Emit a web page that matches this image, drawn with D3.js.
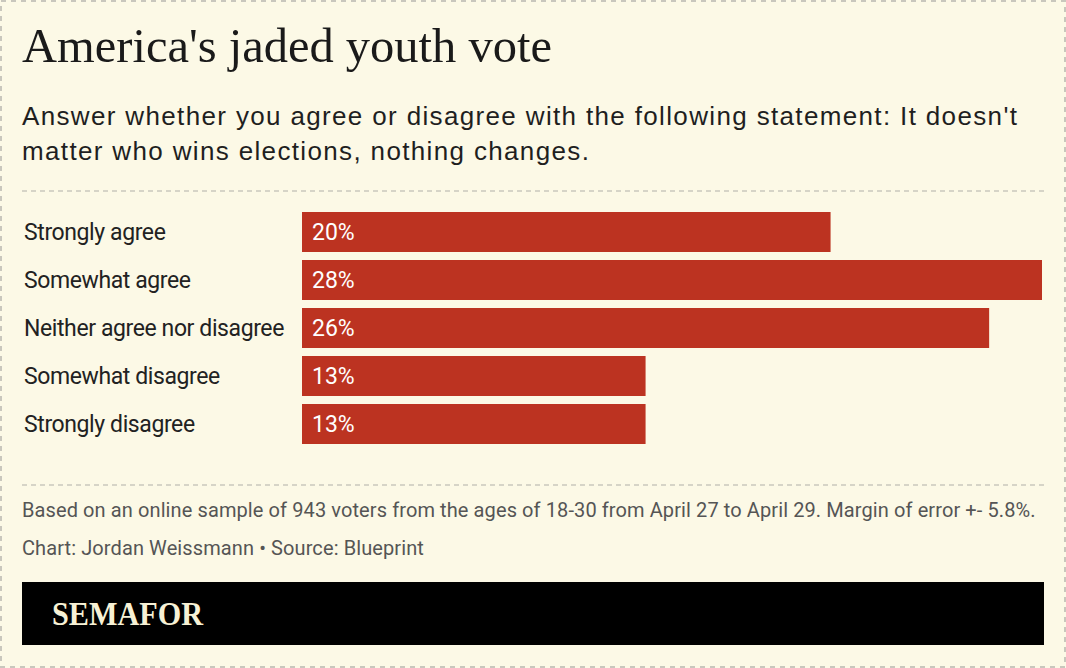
<!DOCTYPE html>
<html>
<head>
<meta charset="utf-8">
<script src="https://cdn.jsdelivr.net/npm/d3@7"></script>
<style>
  body { margin: 0; background: #fff; }
  svg { display: block; }
</style>
</head>
<body>
<div id="chart"></div>
<script>
// data
var categories = ["Strongly agree", "Somewhat agree", "Neither agree nor disagree", "Somewhat disagree", "Strongly disagree"];
var values = [20, 28, 26, 13, 13];
var title = "America's jaded youth vote";
var subtitle = ["Answer whether you agree or disagree with the following statement: It doesn't",
                "matter who wins elections, nothing changes."];
var note = "Based on an online sample of 943 voters from the ages of 18-30 from April 27 to April 29. Margin of error +- 5.8%.";
var credit = "Chart: Jordan Weissmann \u2022 Source: Blueprint";

var W = 1066, H = 668;
var bg = "#fcf9e6", red = "#bc3321";

var svg = d3.select("#chart").append("svg")
  .attr("width", W).attr("height", H);

svg.append("rect").attr("width", W).attr("height", H).attr("fill", bg);

// dashed frame
svg.append("rect")
  .attr("x", 1).attr("y", 1).attr("width", W - 2).attr("height", H - 2)
  .attr("fill", "none").attr("stroke", "#c9c7bd").attr("stroke-width", 2)
  .attr("stroke-dasharray", "5,5");

svg.append("text")
  .attr("x", 22).attr("y", 62)
  .style("font-family", "'Liberation Serif', serif")
  .style("font-size", "48.5px")
  .attr("fill", "#1a1a1a")
  .text(title);

svg.selectAll("text.sub").data(subtitle).enter().append("text")
  .attr("class", "sub")
  .attr("x", 22).attr("y", function(d, i) { return 125 + i * 35; })
  .style("font-family", "'Liberation Sans', Arial, sans-serif")
  .style("font-size", "26px")
  .style("letter-spacing", "1.35px")
  .attr("fill", "#1f1f1f")
  .text(function(d) { return d; });

// dashed rules
[191, 485].forEach(function(y) {
  svg.append("line")
    .attr("x1", 22).attr("x2", 1044).attr("y1", y).attr("y2", y)
    .attr("stroke", "#c9c7bd").attr("stroke-width", 1.5)
    .attr("stroke-dasharray", "5,4");
});

var x = d3.scaleLinear().domain([0, 28]).range([302, 1042]);
var y = d3.scaleBand().domain(categories).range([212, 444]).paddingInner(8 / 48).paddingOuter(0);

var rows = svg.selectAll("g.row").data(categories).enter().append("g").attr("class", "row");

rows.append("rect")
  .attr("x", x(0))
  .attr("y", function(d) { return y(d); })
  .attr("width", function(d, i) { return x(values[i]) - x(0); })
  .attr("height", y.bandwidth())
  .attr("fill", red);

rows.append("text")
  .attr("x", 24)
  .attr("y", function(d) { return y(d) + y.bandwidth() / 2; })
  .attr("dy", "0.35em")
  .style("font-family", "Roboto, sans-serif")
  .style("font-size", "23px")
  .style("letter-spacing", "-0.4px")
  .attr("fill", "#222")
  .text(function(d) { return d; });

rows.append("text")
  .attr("x", x(0) + 10)
  .attr("y", function(d) { return y(d) + y.bandwidth() / 2; })
  .attr("dy", "0.35em")
  .style("font-family", "Roboto, sans-serif")
  .style("font-size", "23px")
  .attr("fill", "#fff")
  .text(function(d, i) { return values[i] + "%"; });

svg.append("text")
  .attr("x", 22).attr("y", 517)
  .style("font-family", "Roboto, sans-serif")
  .style("font-size", "20px")
  .style("letter-spacing", "0.1px")
  .attr("fill", "#555")
  .text(note);

svg.append("text")
  .attr("x", 22).attr("y", 555)
  .style("font-family", "Roboto, sans-serif")
  .style("font-size", "20px")
  .style("letter-spacing", "0.1px")
  .attr("fill", "#555")
  .text(credit);

// brand strip
svg.append("rect")
  .attr("x", 22).attr("y", 582).attr("width", 1022).attr("height", 63)
  .attr("fill", "#000");

svg.append("text")
  .attr("x", 52).attr("y", 625)
  .style("font-family", "'Liberation Serif', serif")
  .style("font-size", "33px")
  .style("font-weight", "bold")
  .attr("textLength", 151)
  .attr("lengthAdjust", "spacingAndGlyphs")
  .attr("fill", "#f7f1d5")
  .text("SEMAFOR");
</script>
</body>
</html>
